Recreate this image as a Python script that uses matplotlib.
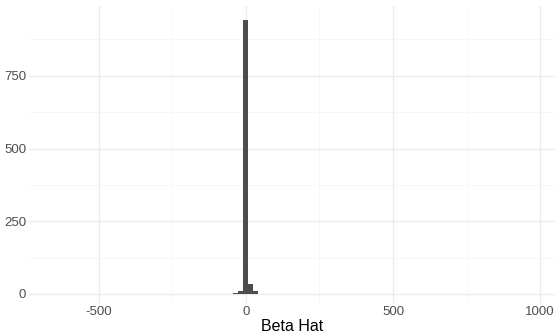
import numpy as np
import matplotlib
matplotlib.use("Agg")
import matplotlib.pyplot as plt
from matplotlib.ticker import MultipleLocator

plt.rcParams["font.family"] = ["Liberation Sans", "DejaVu Sans"]

# histogram bins (bin width ~16.6)
bin_width = 16.6
bin_centers = [-649.9, -101.1, -84.5, -67.9, -34.7, -18.1, -1.5, 15.1, 31.7, 64.9, 430.1, 994.5]
counts = [1, 1, 1, 1, 2, 10, 942, 36, 9, 1, 1, 1]

x_ticks = [-500, 0, 500, 1000]
y_ticks = [0, 250, 500, 750]

fig = plt.figure(figsize=(5.59, 3.33), dpi=100)
ax = fig.add_axes([29 / 559, 30 / 333, 526 / 559, 297 / 333])

ax.bar(bin_centers, counts, width=bin_width, color="#4d4d4d", edgecolor="none", zorder=3)

ax.set_xlim(-738, 1051)
ax.set_ylim(-31, 990)
ax.set_xticks(x_ticks)
ax.set_xticklabels([str(t) for t in x_ticks])
ax.set_yticks(y_ticks)
ax.xaxis.set_minor_locator(MultipleLocator(250))
ax.yaxis.set_minor_locator(MultipleLocator(125))

ax.grid(which="major", color="#ebebeb", linewidth=0.9, zorder=0)
ax.grid(which="minor", color="#f4f4f4", linewidth=0.5, zorder=0)
for s in ax.spines.values():
    s.set_visible(False)
ax.tick_params(which="both", length=0, labelsize=9.5, labelcolor="#4d4d4d", pad=2)

ax.set_xlabel("Beta Hat", fontsize=11.5, labelpad=1)

fig.savefig("out.png", dpi=100)
